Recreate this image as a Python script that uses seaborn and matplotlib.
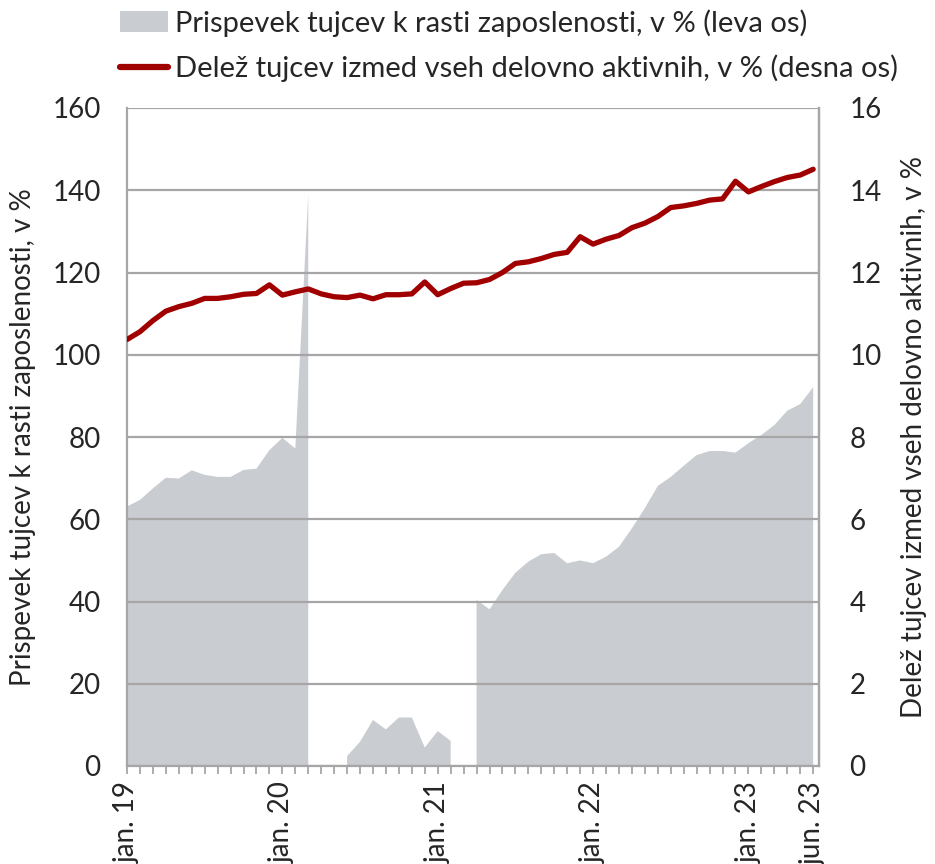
import numpy as np
import pandas as pd
import matplotlib
matplotlib.use("Agg")
import matplotlib.pyplot as plt
import seaborn as sns
from matplotlib.patches import Patch
from matplotlib.lines import Line2D

# Monthly data, jan. 2019 - jun. 2023
contribution = [63.1, 64.7, 67.5, 70.1, 69.9, 71.9, 70.8, 70.3, 70.3, 72.0, 72.3, 76.8,
                79.8, 77.2, 139.0, np.nan, np.nan, 2.4, 5.9, 11.2, 8.9, 11.8, 11.8, 4.5,
                8.5, 6.1, np.nan, 40.4, 38.1, 42.8, 47.0, 49.7, 51.5, 51.8, 49.3, 50.0,
                49.3, 50.9, 53.3, 57.8, 62.7, 68.1, 70.3, 73.0, 75.6, 76.6, 76.6, 76.2,
                78.5, 80.5, 82.9, 86.4, 88.0, 92.1]
share = [10.37, 10.56, 10.83, 11.06, 11.17, 11.25, 11.37, 11.37, 11.41, 11.47, 11.49, 11.70,
         11.45, 11.53, 11.60, 11.48, 11.41, 11.39, 11.45, 11.36, 11.46, 11.46, 11.48, 11.77,
         11.46, 11.61, 11.74, 11.75, 11.83, 12.00, 12.22, 12.26, 12.34, 12.44, 12.49, 12.87,
         12.69, 12.81, 12.90, 13.09, 13.20, 13.36, 13.58, 13.62, 13.68, 13.76, 13.79, 14.22,
         13.96, 14.09, 14.21, 14.31, 14.37, 14.51]
tick_labels = ["jan. 19", "jan. 20", "jan. 21", "jan. 22", "jan. 23", "jun. 23"]
tick_months = [0, 12, 24, 36, 48, 53]

label_area = "Prispevek tujcev k rasti zaposlenosti, v % (leva os)"
label_line = "Delež tujcev izmed vseh delovno aktivnih, v % (desna os)"
ylabel_left = "Prispevek tujcev k rasti zaposlenosti, v %"
ylabel_right = "Delež tujcev izmed vseh delovno aktivnih, v %"

sns.set_theme(style="white")
plt.rcParams['font.family'] = ['Lato', 'DejaVu Sans']

df = pd.DataFrame({"month": np.arange(len(share)), "contribution": contribution, "share": share})

GREY_AREA = "#C9CCD1"
GRID = "#A6A6A6"
RED = "#A00000"
FS = 20

fig = plt.figure(figsize=(9.35, 8.64), dpi=100)
ax = fig.add_axes([127/935, 1-766/864, (819-127)/935, (766-108)/864])

ax.fill_between(df["month"], 0, df["contribution"], color=GREY_AREA, lw=0, zorder=1)
ax.set_ylim(0, 160)
ax.set_yticks(np.arange(0, 161, 20))
ax.set_xlim(0, 53.45)
ax.set_axisbelow(False)
ax.grid(axis="y", color=GRID, lw=1.6, zorder=2)
ax.grid(axis="x", visible=False)
ax.spines["top"].set_visible(False)
for s in ["left", "right", "bottom"]:
    ax.spines[s].set_color(GRID)
    ax.spines[s].set_linewidth(1.6)

ax.set_xticks(np.arange(0, 54), minor=True)
ax.set_xticks(tick_months)
ax.set_xticklabels(tick_labels, rotation=90, fontsize=FS, va="top", ha="center")
ax.tick_params(axis="x", which="both", direction="out", length=6, width=1.3, color=GRID, bottom=True, pad=5)
ax.tick_params(axis="y", length=0, pad=19, labelsize=FS)
ax.set_ylabel(ylabel_left, fontsize=FS, labelpad=12)

ax2 = ax.twinx()
sns.lineplot(data=df, x="month", y="share", ax=ax2, color=RED, lw=3.8, zorder=5)
ax2.set_ylim(0, 16)
ax2.set_yticks(np.arange(0, 17, 2))
ax2.set_xlim(0, 53.45)
ax2.tick_params(axis="y", length=0, pad=22, labelsize=FS)
ax2.set_ylabel(ylabel_right, fontsize=FS, labelpad=14)
ax2.set_xlabel("")
ax2.grid(False)
for s in ax2.spines.values():
    s.set_visible(False)
ax2.spines["right"].set_visible(True)
ax2.spines["right"].set_color(GRID)
ax2.spines["right"].set_linewidth(1.6)

handles = [Patch(facecolor=GREY_AREA, edgecolor="none"),
           Line2D([0], [0], color=RED, lw=4.5, solid_capstyle="round")]
fig.legend(handles, [label_area, label_line], loc="upper left",
           bbox_to_anchor=(120/935, 1 - 9/864), frameon=False, fontsize=21,
           handlelength=1.65, handleheight=0.7, handletextpad=0.22, labelspacing=0.62,
           borderaxespad=0, borderpad=0)

fig.savefig("out.png", dpi=100)
